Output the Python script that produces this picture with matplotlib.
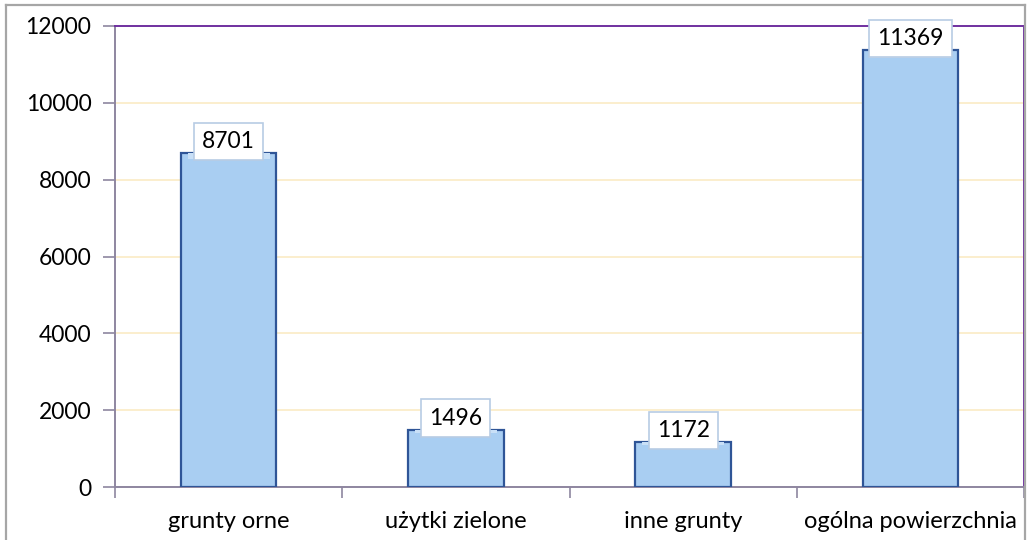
import matplotlib.pyplot as plt
from matplotlib.lines import Line2D

categories = ["grunty orne", "użytki zielone", "inne grunty", "ogólna powierzchnia"]
values = [8701, 1496, 1172, 11369]
yticks = [0, 2000, 4000, 6000, 8000, 10000, 12000]

plt.rcParams['font.family'] = ['Lato', 'DejaVu Sans']

fig = plt.figure(figsize=(10.27, 5.4), dpi=100)
ax = fig.add_axes([115 / 1027, 53 / 540, 909 / 1027, 461 / 540])

x = list(range(len(categories)))
ax.bar(x, values, width=0.42, color='#A9CEF2', edgecolor='#2F5597', linewidth=1.6, zorder=3)
# light bevel on the top of each bar
ax.bar(x, [v * 0.012 + 60 for v in values], bottom=[v - (v * 0.012 + 60) for v in values],
       width=0.36, color='#C9E0F7', linewidth=0, zorder=4)

for xi, v in zip(x, values):
    ax.text(xi, v + 300, str(v), ha='center', va='center', fontsize=16.5, zorder=6,
            bbox=dict(boxstyle='square,pad=0.35', facecolor='white', edgecolor='#B8CCE4', linewidth=1.2))

ax.set_xlim(-0.5, len(categories) - 0.5)
ax.set_ylim(0, 12000)
ax.set_yticks(yticks)
ax.set_yticklabels([str(t) for t in yticks], fontsize=16.5)
ax.yaxis.grid(True, color='#FBEBC5', linewidth=1.2, zorder=0)
ax.set_axisbelow(True)

ax.set_xticks([i - 0.5 for i in range(len(categories) + 1)])
ax.set_xticklabels([])
ax.set_xticks(x, minor=True)
ax.set_xticklabels(categories, minor=True, fontsize=17)
ax.tick_params(axis='x', which='minor', length=0, pad=17)
ax.tick_params(axis='x', which='major', length=8, color='#8E86A0', width=1.2)
ax.tick_params(axis='y', length=9, color='#8E86A0', width=1.2, pad=8)

for s in ['left', 'bottom']:
    ax.spines[s].set_color('#8E86A0')
    ax.spines[s].set_linewidth(1.4)
for s in ['top', 'right']:
    ax.spines[s].set_color('#7030A0')
    ax.spines[s].set_linewidth(1.4)

# outer chart frame
fc = '#A6A6A6'
fig.add_artist(Line2D([6 / 1027, 6 / 1027], [0, 1 - 5 / 540], color=fc, lw=1.6, transform=fig.transFigure))
fig.add_artist(Line2D([6 / 1027, 1025 / 1027], [1 - 5 / 540, 1 - 5 / 540], color=fc, lw=1.6, transform=fig.transFigure))
fig.add_artist(Line2D([1025 / 1027, 1025 / 1027], [0, 1 - 5 / 540], color=fc, lw=1.6, transform=fig.transFigure))

fig.savefig('out.png', dpi=100)
